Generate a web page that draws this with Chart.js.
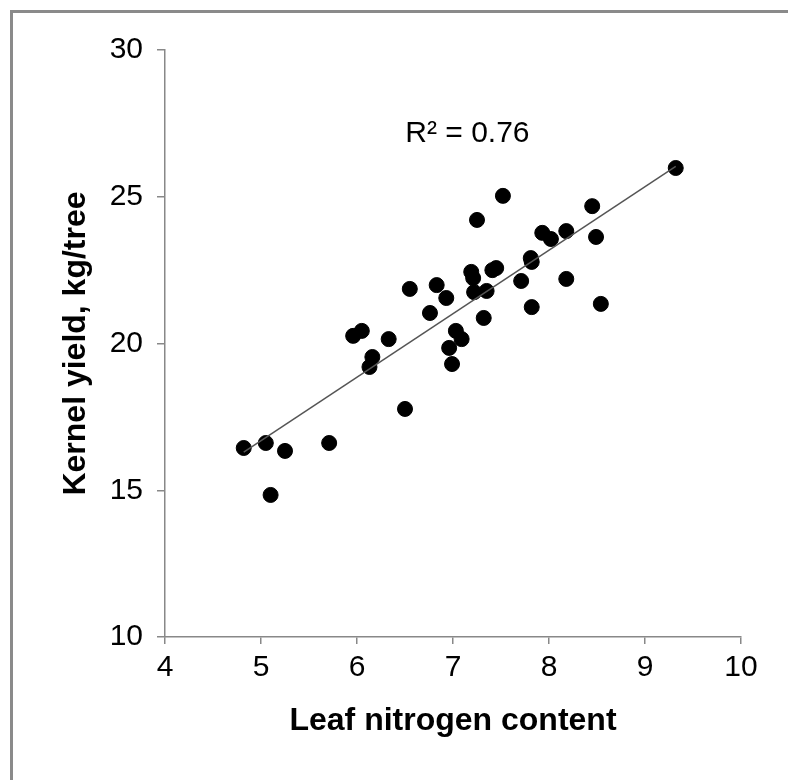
<!DOCTYPE html>
<html>
<head>
<meta charset="utf-8">
<script src="https://cdn.jsdelivr.net/npm/chart.js@4.4.1/dist/chart.umd.min.js"></script>
<style>
    body { margin: 0; background: #fff; }
    #wrap { position: relative; width: 788px; height: 780px; overflow: hidden; }
    #frame {
        position: absolute; left: 10px; top: 10px; width: 900px; height: 900px;
        border-left: 3px solid #8a8a8a; border-top: 3px solid #8a8a8a;
    }
    #chart { position: absolute; left: 0; top: 0; }
</style>
</head>
<body>
<div id="wrap">
    <div id="frame"></div>
    <canvas id="chart" width="788" height="780"></canvas>
</div>
<script>
// Leaf nitrogen content (x) and kernel yield kg/tree (y)
const nitrogen = [4.82, 5.05, 5.10, 5.25, 5.71, 5.96, 6.05, 6.13, 6.16, 6.33,
                  6.50, 6.55, 6.76, 6.83, 6.93, 6.96, 6.99, 7.03, 7.09, 7.19,
                  7.21, 7.22, 7.25, 7.32, 7.35, 7.41, 7.45, 7.52, 7.71, 7.81,
                  7.82, 7.82, 7.93, 8.02, 8.18, 8.18, 8.45, 8.49, 8.54, 9.32];
const kernelYield = [16.44, 16.61, 14.84, 16.34, 16.61, 20.26, 20.43, 19.20, 19.54, 20.15,
                     17.77, 21.86, 21.04, 21.99, 21.55, 19.85, 19.30, 20.43, 20.15, 22.44,
                     22.23, 21.75, 24.21, 20.87, 21.79, 22.50, 22.57, 25.03, 22.13, 22.91,
                     22.78, 21.24, 23.77, 23.56, 23.83, 22.20, 24.68, 23.63, 21.35, 25.98];

const xTicks = [4, 5, 6, 7, 8, 9, 10];
const yTicks = [10, 15, 20, 25, 30];
const r2Label = "R\u00b2 = 0.76";
const r2Pos = { x: 7.15, y: 27.15 };

const FONT = "Arial, 'Liberation Sans', sans-serif";
const AXIS_GREY = "#888888";

// Least squares fit for the trend line
function linearFit(xs, ys) {
    const n = xs.length;
    const mx = xs.reduce((a, b) => a + b, 0) / n;
    const my = ys.reduce((a, b) => a + b, 0) / n;
    let sxy = 0, sxx = 0;
    for (let i = 0; i < n; i++) {
        sxy += (xs[i] - mx) * (ys[i] - my);
        sxx += (xs[i] - mx) * (xs[i] - mx);
    }
    const slope = sxy / sxx;
    return { slope: slope, intercept: my - slope * mx };
}

const fit = linearFit(nitrogen, kernelYield);
const xMin = Math.min(...nitrogen);
const xMax = Math.max(...nitrogen);
const trend = [
    { x: xMin, y: fit.intercept + fit.slope * xMin },
    { x: xMax, y: fit.intercept + fit.slope * xMax }
];

const points = nitrogen.map((x, i) => ({ x: x, y: kernelYield[i] }));

// R² text drawn inside the plot
const r2Plugin = {
    id: "r2Text",
    afterDatasetsDraw(chart) {
        const ctx = chart.ctx;
        const px = chart.scales.x.getPixelForValue(r2Pos.x);
        const py = chart.scales.y.getPixelForValue(r2Pos.y);
        ctx.save();
        ctx.font = "30px " + FONT;
        ctx.fillStyle = "#000";
        ctx.textAlign = "center";
        ctx.textBaseline = "middle";
        ctx.fillText(r2Label, px, py);
        ctx.restore();
    }
};

const ctx = document.getElementById("chart").getContext("2d");
new Chart(ctx, {
    type: "scatter",
    data: {
        datasets: [
            {
                type: "line",
                data: trend,
                borderColor: "#555555",
                borderWidth: 1.5,
                pointRadius: 0,
                fill: false
            },
            {
                data: points,
                backgroundColor: "#000000",
                borderColor: "#000000",
                pointRadius: 7.5,
                pointHoverRadius: 7.5
            }
        ]
    },
    options: {
        responsive: false,
        animation: false,
        events: [],
        layout: { padding: { left: 0, top: 50, right: 47, bottom: 0 } },
        plugins: {
            legend: { display: false },
            tooltip: { enabled: false }
        },
        scales: {
            x: {
                type: "linear",
                min: xTicks[0],
                max: xTicks[xTicks.length - 1],
                afterBuildTicks: (scale) => { scale.ticks = xTicks.map(v => ({ value: v })); },
                afterFit: (scale) => { scale.height = 143; },
                border: { color: AXIS_GREY, width: 1.5 },
                grid: { drawOnChartArea: false, color: AXIS_GREY, tickLength: 7, lineWidth: 1.5 },
                ticks: { color: "#000", font: { size: 30, family: FONT }, padding: 6 },
                title: {
                    display: true,
                    text: "Leaf nitrogen content",
                    color: "#000",
                    font: { size: 32, weight: "bold", family: FONT },
                    padding: { top: 0, bottom: 40 }
                }
            },
            y: {
                type: "linear",
                min: yTicks[0],
                max: yTicks[yTicks.length - 1],
                afterBuildTicks: (scale) => { scale.ticks = yTicks.map(v => ({ value: v })); },
                afterFit: (scale) => { scale.width = 165; },
                border: { color: AXIS_GREY, width: 1.5 },
                grid: { drawOnChartArea: false, color: AXIS_GREY, tickLength: 8, lineWidth: 1.5 },
                ticks: { color: "#000", font: { size: 30, family: FONT }, padding: 14 },
                title: {
                    display: true,
                    text: "Kernel yield, kg/tree",
                    color: "#000",
                    font: { size: 32, weight: "bold", family: FONT },
                    padding: { top: 57, bottom: 0 }
                }
            }
        }
    },
    plugins: [r2Plugin]
});
</script>
</body>
</html>
